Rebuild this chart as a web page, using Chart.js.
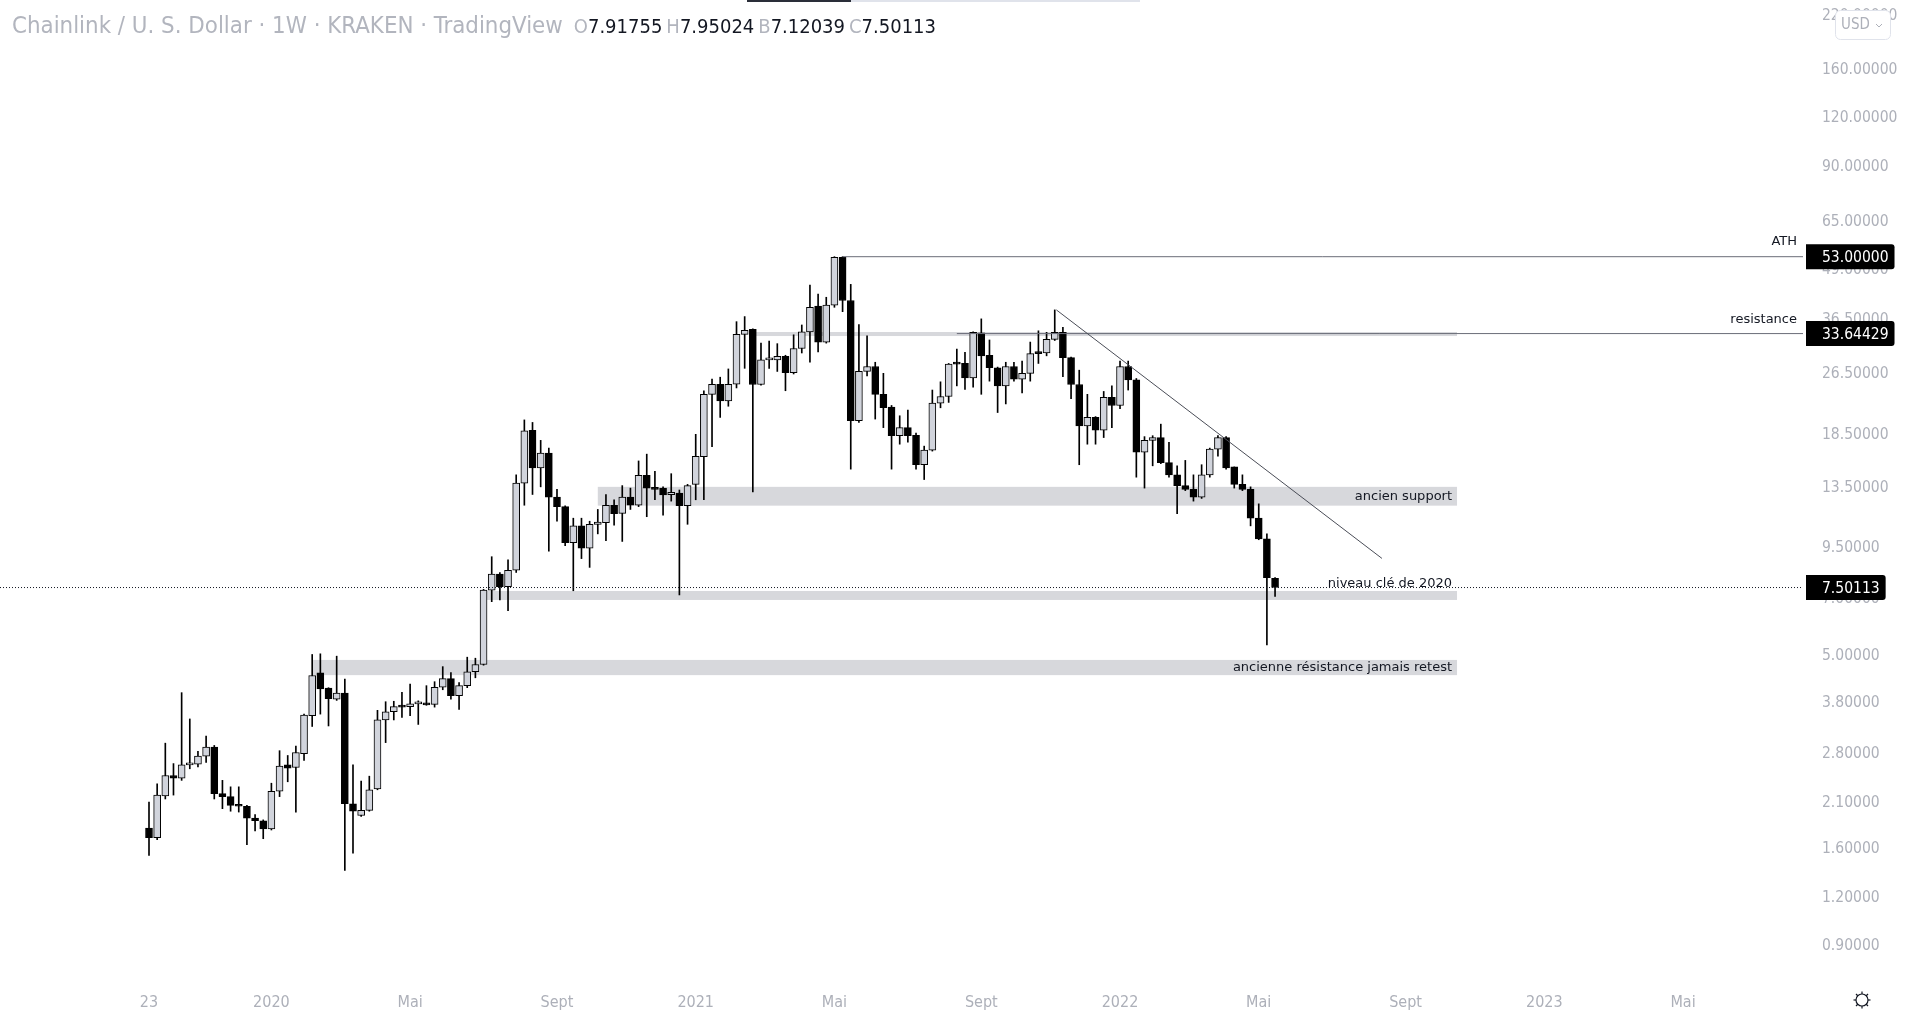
<!DOCTYPE html>
<html>
<head>
<meta charset="utf-8">
<title>Chainlink / U. S. Dollar 1W</title>
<script src="https://cdn.jsdelivr.net/npm/chart.js@4.4.1/dist/chart.umd.min.js"></script>
<style>
  html, body { margin: 0; padding: 0; background: #ffffff; overflow: hidden; }
  #box { position: relative; width: 1920px; height: 1015px; }
  #chart { position: absolute; left: 0; top: 0; }
  #legend { position: absolute; left: 12px; top: 11px; white-space: nowrap;
            font-family: 'DejaVu Sans Condensed', 'DejaVu Sans', sans-serif; color: #b2b5be; }
  #legend .title { font-size: 23.8px; }
  #legend .ohlc { font-size: 20px; margin-left: 11px; }
  #legend .ohlc b { font-weight: normal; color: #131722; margin-right: 4px; }
</style>
</head>
<body>
<div id="box">
  <canvas id="chart" width="1920" height="1015"></canvas>
  <div id="legend"><span class="title">Chainlink / U. S. Dollar · 1W · KRAKEN · TradingView</span><span class="ohlc">O<b>7.91755</b>H<b>7.95024</b>B<b>7.12039</b>C<b>7.50113</b></span></div>
</div>
<script>
// weekly candles, 23 Sept 2019 -> 16 May 2022
const opens = [
  1.81, 1.71, 2.19, 2.47, 2.43, 2.63, 2.64, 2.77, 2.92, 2.22,
  2.18, 2.08, 2.06, 1.92, 1.89, 1.80, 2.25, 2.63, 2.59, 2.81,
  3.52, 4.53, 4.14, 3.88, 4.02, 2.09, 1.95, 2.01, 2.28, 3.43,
  3.60, 3.74, 3.71, 3.77, 3.79, 3.76, 4.16, 4.38, 3.96, 4.20,
  4.56, 4.76, 7.39, 8.12, 7.54, 8.31, 13.9, 18.98, 15.2, 16.6,
  12.8, 12.1, 9.78, 10.8, 9.46, 10.9, 11.0, 12.2, 11.63, 12.8,
  12.2, 14.56, 13.5, 13.5, 12.99, 13.1, 12.17, 13.8, 16.26, 23.5,
  24.94, 22.6, 24.94, 33.5, 34.5, 24.9, 28.8, 28.8, 29.4, 26.7,
  30.8, 34.0, 39.6, 32.0, 39.8, 52.8, 40.9, 20.1, 26.9, 27.7,
  23.5, 21.8, 18.4, 19.3, 18.45, 15.5, 16.9, 22.3, 23.2, 28.2,
  28.2, 25.9, 33.8, 29.6, 27.5, 24.7, 27.7, 25.7, 26.6, 30.1,
  30.0, 32.5, 33.9, 29.2, 24.9, 19.5, 20.5, 19.0, 23.1, 22.0,
  27.7, 25.6, 16.7, 17.9, 18.2, 15.7, 14.6, 13.7, 13.4, 12.8,
  14.6, 17.0, 18.2, 15.3, 13.8, 13.4, 11.3, 10.0, 7.91755
];
const highs = [
  2.11, 2.35, 2.99, 2.65, 4.03, 3.45, 2.85, 3.12, 2.95, 2.40,
  2.31, 2.31, 2.07, 1.96, 1.90, 2.36, 2.86, 2.78, 2.94, 3.55,
  5.05, 5.07, 4.15, 5.00, 4.37, 2.63, 2.39, 2.46, 3.63, 3.82,
  3.83, 4.04, 4.24, 3.84, 4.20, 4.30, 4.70, 4.54, 4.28, 4.97,
  4.94, 7.42, 9.00, 8.20, 8.83, 14.6, 20.2, 19.9, 17.9, 17.1,
  13.4, 12.15, 11.3, 11.3, 11.1, 11.9, 13.0, 12.6, 13.7, 13.5,
  15.85, 16.5, 14.9, 13.6, 14.7, 13.35, 13.8, 18.55, 24.0, 25.7,
  26.0, 27.3, 36.1, 37.2, 34.6, 31.8, 32.2, 31.7, 29.6, 33.4,
  35.4, 44.8, 42.5, 41.7, 53.0, 53.0, 45.0, 35.5, 33.2, 28.4,
  26.6, 22.0, 20.7, 21.4, 18.7, 17.3, 24.1, 25.3, 28.2, 30.7,
  30.1, 34.0, 36.7, 32.4, 27.6, 28.4, 28.4, 28.6, 32.0, 34.2,
  33.9, 38.7, 34.9, 29.3, 27.1, 23.5, 20.6, 23.9, 24.7, 28.6,
  28.6, 25.8, 18.3, 18.4, 19.7, 17.7, 15.4, 15.9, 14.6, 15.5,
  17.1, 18.4, 18.3, 15.3, 14.6, 13.6, 12.3, 10.3, 7.95024
];
const lows = [
  1.54, 1.69, 2.15, 2.20, 2.40, 2.57, 2.60, 2.67, 2.15, 2.03,
  2.00, 1.99, 1.64, 1.78, 1.70, 1.79, 2.18, 2.38, 1.99, 2.70,
  3.30, 3.55, 3.31, 3.85, 1.41, 1.56, 1.94, 2.00, 2.27, 3.00,
  3.43, 3.48, 3.52, 3.34, 3.74, 3.70, 4.10, 3.88, 3.65, 4.15,
  4.40, 4.74, 6.90, 6.97, 6.54, 8.20, 12.2, 13.0, 13.6, 9.3,
  11.1, 9.6, 7.36, 8.9, 8.45, 10.3, 9.9, 10.85, 9.85, 11.9,
  12.1, 11.4, 12.6, 11.5, 12.5, 7.18, 10.9, 12.6, 12.6, 17.25,
  20.5, 21.9, 24.4, 27.4, 13.2, 24.8, 27.4, 26.9, 24.0, 26.5,
  30.0, 28.4, 30.2, 31.8, 39.3, 38.3, 15.1, 19.9, 26.2, 20.3,
  19.3, 15.1, 17.5, 17.7, 15.1, 14.2, 16.8, 21.7, 22.4, 24.7,
  24.2, 24.5, 23.5, 25.4, 21.1, 22.2, 25.4, 23.7, 25.4, 28.2,
  29.5, 32.3, 26.1, 22.9, 15.5, 17.5, 17.5, 18.2, 19.3, 21.6,
  24.1, 14.4, 13.5, 15.4, 15.6, 14.4, 11.6, 13.3, 12.5, 12.7,
  14.4, 16.3, 15.1, 13.5, 13.3, 10.8, 9.95, 5.34, 7.12039
];
const closes = [
  1.71, 2.20, 2.47, 2.43, 2.63, 2.65, 2.77, 2.92, 2.22, 2.18,
  2.07, 2.06, 1.92, 1.89, 1.80, 2.25, 2.61, 2.58, 2.83, 3.53,
  4.46, 4.12, 3.89, 4.02, 2.09, 2.00, 2.01, 2.27, 3.43, 3.60,
  3.71, 3.70, 3.77, 3.78, 3.75, 4.16, 4.38, 3.96, 4.20, 4.56,
  4.76, 7.39, 8.12, 7.54, 8.31, 13.9, 18.95, 15.2, 16.6, 12.8,
  12.1, 9.78, 10.8, 9.46, 10.9, 11.05, 12.2, 11.6, 12.8, 12.2,
  14.56, 13.5, 13.4, 12.96, 13.17, 12.17, 13.7, 16.3, 23.5, 24.94,
  22.6, 24.94, 33.5, 34.3, 24.9, 28.8, 28.9, 29.4, 26.7, 30.8,
  34.0, 39.3, 32.0, 39.8, 52.8, 40.9, 20.1, 26.9, 27.7, 23.5,
  21.7, 18.4, 19.3, 18.4, 15.5, 16.9, 22.3, 23.2, 28.1, 28.1,
  25.9, 33.9, 29.5, 27.5, 24.7, 27.7, 25.7, 26.6, 29.9, 29.9,
  32.5, 33.9, 29.2, 24.9, 19.5, 20.5, 19.0, 23.1, 22.0, 27.7,
  25.6, 16.7, 17.9, 18.2, 15.7, 14.6, 13.7, 13.4, 12.8, 14.6,
  17.0, 18.2, 15.2, 13.8, 13.4, 11.3, 10.0, 7.95, 7.50113
];

// time axis: week index of each label (0 = 23 Sept 2019)
const xTickPos  = [0, 15, 32, 50, 67, 84, 102, 119, 136, 154, 171, 188];
const xTickText = ['23', '2020', 'Mai', 'Sept', '2021', 'Mai', 'Sept', '2022', 'Mai', 'Sept', '2023', 'Mai'];
const yTicks = [0.9, 1.2, 1.6, 2.1, 2.8, 3.8, 5, 7, 9.5, 13.5, 18.5, 26.5, 36.5, 49, 65, 90, 120, 160, 220];

// drawn zones (week index range, price range)
const zoneStart = [20, 41, 55, 74];
const zoneEnd   = [160.3, 160.3, 160.3, 160.3];
const zoneLow   = [4.47, 6.97, 12.17, 33.16];
const zoneHigh  = [4.89, 7.35, 13.6, 33.96];
const zoneText  = ['ancienne résistance jamais retest', 'niveau clé de 2020', 'ancien support', ''];

const athPrice = 53.0, athStart = 85;
const resPrice = 33.64429, resStart = 99;
const lastPrice = 7.50113;
const trendX = [111.2, 151.1];
const trendY = [38.7, 8.91];

const xMin = -18.26, xMax = 202.7;
const yMin = 0.7077, yMax = 241.6;
const FONT = "'DejaVu Sans Condensed', 'DejaVu Sans', sans-serif";
const TEXT = '#131722';
const AXIS = '#adb0b9';

const idx = opens.map((_, i) => i);

const overlay = {
  id: 'overlay',
  beforeDatasetsDraw(chart) {
    const { ctx, scales: { x, y } } = chart;
    ctx.save();
    ctx.fillStyle = '#d7d8dc';
    zoneStart.forEach((s, k) => {
      const x0 = x.getPixelForValue(s), x1 = x.getPixelForValue(zoneEnd[k]);
      const y0 = y.getPixelForValue(zoneHigh[k]), y1 = y.getPixelForValue(zoneLow[k]);
      ctx.fillRect(x0, y0, x1 - x0, y1 - y0);
    });
    ctx.restore();
  },
  afterDatasetsDraw(chart) {
    const { ctx, chartArea, scales: { x, y } } = chart;
    ctx.save();
    ctx.font = "13px 'DejaVu Sans', sans-serif";
    ctx.fillStyle = TEXT;
    ctx.textAlign = 'right';
    ctx.textBaseline = 'middle';
    zoneText.forEach((t, k) => {
      if (!t) return;
      const xr = x.getPixelForValue(zoneEnd[k]) - 5;
      const yt = y.getPixelForValue(zoneHigh[k]), yb = y.getPixelForValue(zoneLow[k]);
      // the 2020 level label sits on the price line, above its zone
      const yy = k === 1 ? yt - 7 : (yt + yb) / 2;
      ctx.fillText(t, xr, yy);
    });
    ctx.fillText('ATH', chartArea.right - 6, y.getPixelForValue(athPrice) - 15);
    ctx.fillText('resistance', chartArea.right - 6, y.getPixelForValue(resPrice) - 14);
    ctx.restore();
  },
  afterDraw(chart) {
    const { ctx, chartArea, scales: { y } } = chart;
    ctx.save();
    // price tags on the scale
    ctx.font = '15.5px ' + FONT;
    ctx.textBaseline = 'middle';
    ctx.textAlign = 'left';
    [athPrice, resPrice, lastPrice].forEach(v => {
      const yy = y.getPixelForValue(v);
      const t = v.toFixed(5);
      const w = ctx.measureText(t).width;
      const bx = chartArea.right + 3;
      ctx.fillStyle = '#000000';
      ctx.beginPath();
      ctx.roundRect(bx, yy - 12.5, 16 + w + 6, 25, [0, 3, 3, 0]);
      ctx.fill();
      ctx.fillStyle = '#ffffff';
      ctx.fillText(t, chartArea.right + 19, yy + 1);
    });
    // currency button
    ctx.fillStyle = '#ffffff';
    ctx.strokeStyle = '#e0e3eb';
    ctx.lineWidth = 1;
    ctx.beginPath();
    ctx.roundRect(1835.5, 10.5, 55, 29, 5);
    ctx.fill();
    ctx.stroke();
    ctx.fillStyle = AXIS;
    ctx.font = '15px ' + FONT;
    ctx.fillText('USD', 1841, 25.5);
    ctx.strokeStyle = AXIS;
    ctx.beginPath();
    ctx.moveTo(1876, 24); ctx.lineTo(1879, 27); ctx.lineTo(1882, 24);
    ctx.stroke();
    // settings icon
    const cx = 1862, cy = 1000;
    ctx.strokeStyle = TEXT;
    ctx.lineWidth = 1.2;
    ctx.beginPath();
    ctx.arc(cx, cy, 6, 0, Math.PI * 2);
    ctx.stroke();
    for (let a = 0; a < 8; a++) {
      const r = a * Math.PI / 4;
      ctx.beginPath();
      ctx.moveTo(cx + Math.cos(r) * 6, cy + Math.sin(r) * 6);
      ctx.lineTo(cx + Math.cos(r) * 8.5, cy + Math.sin(r) * 8.5);
      ctx.stroke();
    }
    // scroll indicator at the top
    ctx.fillStyle = '#e0e3eb';
    ctx.fillRect(851, 0, 289, 2);
    ctx.fillStyle = '#2a2e39';
    ctx.fillRect(747, 0, 104, 2);
    ctx.restore();
  }
};

const hline = (x0, x1, v, color, dash) => ({
  type: 'line', order: -1,
  data: [{ x: x0, y: v }, { x: x1, y: v }],
  borderColor: color, borderWidth: 1, borderDash: dash || [],
  pointRadius: 0, fill: false
});

new Chart(document.getElementById('chart'), {
  type: 'bar',
  data: {
    datasets: [
      {
        label: 'body', order: 1, grouped: false,
        data: idx.map(i => ({ x: i, y: [opens[i], closes[i]] })),
        backgroundColor: idx.map(i => closes[i] >= opens[i] ? '#d1d4dc' : '#000000'),
        borderColor: '#000000', borderWidth: 1, borderSkipped: false,
        barThickness: 7, minBarLength: 2
      },
      {
        label: 'wick', order: 2, grouped: false,
        data: idx.map(i => ({ x: i, y: [lows[i], highs[i]] })),
        backgroundColor: '#000000', borderWidth: 0, barThickness: 1
      },
      {
        type: 'line', order: -1,
        data: trendX.map((v, k) => ({ x: v, y: trendY[k] })),
        borderColor: '#4a4d57', borderWidth: 1, pointRadius: 0, fill: false
      },
      hline(athStart, xMax, athPrice, '#6a6d78'),
      hline(resStart, xMax, resPrice, '#6a6d78'),
      hline(xMin, xMax, lastPrice, '#131722', [1, 2])
    ]
  },
  options: {
    responsive: false,
    animation: false,
    events: [],
    layout: { padding: 0 },
    plugins: { legend: { display: false }, tooltip: { enabled: false } },
    scales: {
      x: {
        type: 'linear', min: xMin, max: xMax, offset: false,
        grid: { display: false, drawTicks: false },
        border: { display: false },
        afterBuildTicks: s => { s.ticks = xTickPos.map(v => ({ value: v })); },
        afterFit: s => { s.height = 28; s.paddingLeft = 0; s.paddingRight = 0; },
        ticks: {
          autoSkip: false, maxRotation: 0, padding: 6, color: AXIS,
          font: { family: FONT, size: 16 },
          callback: (v, i) => xTickText[i]
        }
      },
      y: {
        type: 'logarithmic', position: 'right', min: yMin, max: yMax, bounds: 'data',
        grid: { display: false, drawTicks: false },
        border: { display: false },
        afterBuildTicks: s => { s.ticks = yTicks.map(v => ({ value: v })); },
        afterFit: s => { s.width = 117; s.paddingTop = 0; s.paddingBottom = 0; },
        ticks: {
          autoSkip: false, padding: 19, color: AXIS,
          font: { family: FONT, size: 15.5 },
          callback: v => Number(v).toFixed(5)
        }
      }
    }
  },
  plugins: [overlay]
});
</script>
</body>
</html>
